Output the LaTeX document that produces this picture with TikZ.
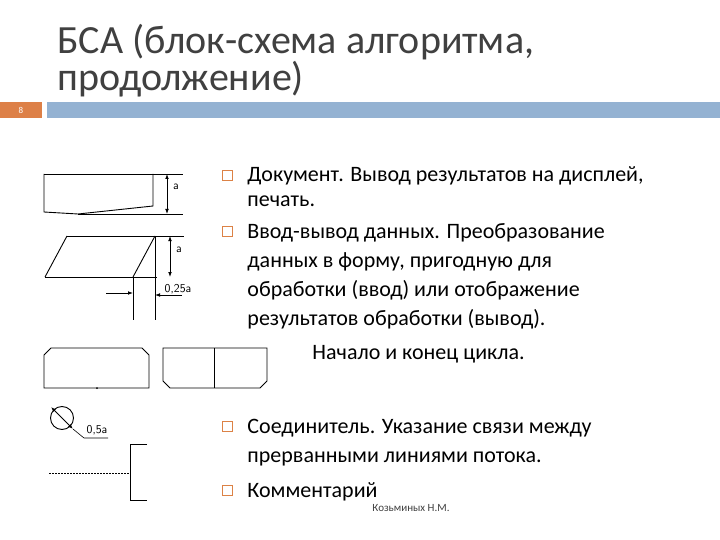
\documentclass[tikz,border=0pt]{standalone}
\usepackage{fontspec}
\setmainfont{Carlito}
\usetikzlibrary{arrows.meta}
\definecolor{titlec}{RGB}{64,64,64}
\definecolor{orangec}{RGB}{221,128,71}
\definecolor{bluec}{RGB}{148,178,210}
\definecolor{bulc}{RGB}{220,130,70}
\begin{document}
\begin{tikzpicture}[x=1pt,y=-1pt,line width=0.9pt,
  body/.style={anchor=base west,font=\fontsize{22}{26}\selectfont,inner sep=0pt},
  bul/.style={draw=bulc,line width=0.6pt,minimum size=10pt,inner sep=0pt},
  small/.style={font=\fontsize{12}{13}\selectfont\sffamily,inner sep=1pt},
  dim/.style={{Latex[length=5pt]}-{Latex[length=5pt]}}]
\useasboundingbox (0,0) rectangle (720,540);
\fill[white] (0,0) rectangle (720,540);
% header
\node[anchor=base west,text=titlec,font=\fontsize{40}{44}\selectfont,inner sep=0pt] (t1) at (57,54) {БСА (блок-схема алгоритма,};
\node[anchor=base west,text=titlec,font=\fontsize{40}{44}\selectfont,inner sep=0pt] (t2) at (57,91) {продолжение)};
\fill[orangec] (0,102) rectangle (42,118);
\node[text=white,font=\fontsize{9}{10}\selectfont] (num) at (21,110) {8};
\fill[bluec] (47,102) rectangle (720,118);
% document
\draw (44,174) -- (183,174);
\draw (44,174) -- (44,212) -- (78,214) -- (153,206) -- (153,174);
\draw (78,214) -- (183,214);
\draw[dim] (167,174) -- (167,214);
\node[small] (la) at (176,187) {a};
% io
\draw (67,236) -- (184,236);
\draw (45,277) -- (157,277);
\draw (45,277) -- (67,236);
\draw (133,277) -- (155,236);
\draw (133,277) -- (133,320);
\draw (155,236) -- (155,320);
\draw[dim] (170,236) -- (170,277);
\node[small] (lb) at (179,250) {a};
\draw[-{Latex[length=5pt]}] (106,293) -- (133,293);
\draw[-{Latex[length=5pt]}] (182,295) -- (155,295);
\node[small] (lc) at (178,289) {0,25a};
% loop
\draw (51,348) -- (142,348) -- (149,355) -- (149,388) -- (44,388) -- (44,355) -- cycle;
\fill (97,388) circle (1pt);
\draw (163,348) -- (267,348) -- (267,381) -- (260,388) -- (170,388) -- (163,381) -- cycle;
\draw (214,348) -- (214,388);
% connector
\draw (62,418) circle (11.5);
\draw[dim] (51,407) -- (73,429);
\draw[line width=0.6pt] (73,429) -- (84,438) -- (108,438);
\node[small] (ld) at (97,430) {0,5a};
% comment
\draw[dashed,line width=0.6pt,dash pattern=on 2pt off 1pt] (49,473) -- (130,473);
\draw (147,444) -- (130,444) -- (130,500) -- (147,500);
% text
\node[bul] (b1) at (227,175) {};
\node[body] (x1) at (247,182) {Документ. Вывод результатов на дисплей,};
\node[body] (x2) at (247,207) {печать.};
\node[bul] (b2) at (227,231) {};
\node[body] (x3) at (247,238) {Ввод-вывод данных. Преобразование};
\node[body] (x4) at (247,267) {данных в форму, пригодную для};
\node[body] (x5) at (247,296) {обработки (ввод) или отображение};
\node[body] (x6) at (247,325) {результатов обработки (вывод).};
\node[body] (x7) at (312,359) {Начало и конец цикла.};
\node[bul] (b3) at (227,426) {};
\node[body] (x8) at (247,433) {Соединитель. Указание связи между};
\node[body] (x9) at (247,462) {прерванными линиями потока.};
\node[bul] (b4) at (227,490) {};
\node[body] (x10) at (247,497) {Комментарий};
\node[anchor=base west,font=\fontsize{11}{12}\selectfont,text=titlec,inner sep=0pt] (au) at (372,511) {Козьминых Н.М.};
\end{tikzpicture}
\end{document}
